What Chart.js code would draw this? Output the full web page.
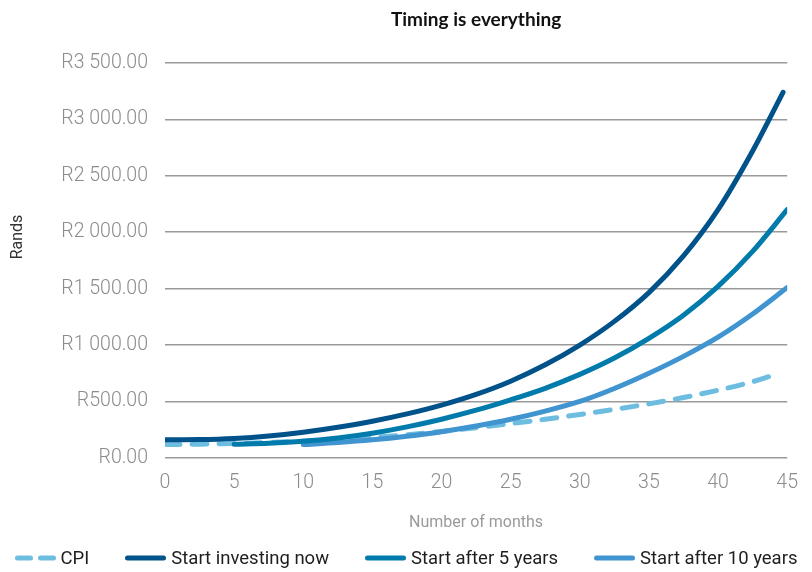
<!DOCTYPE html>
<html>
<head>
<meta charset="utf-8">
<title>Timing is everything</title>
<script src="https://cdn.jsdelivr.net/npm/chart.js@4.4.1/dist/chart.umd.min.js"></script>
<style>
    html, body { margin: 0; padding: 0; background: #fff; }
    .wrap { position: relative; width: 812px; height: 572px; }
    #chart { display: block; }
    .legend {
        position: absolute; left: 0; top: 548px; width: 812px; height: 20px;
        display: flex; justify-content: center; gap: 36px;
        font: 18.5px Roboto, sans-serif; line-height: 20px; color: #1e1e1e;
    }
    .legend__item { display: flex; align-items: center; white-space: nowrap; }
    .legend__swatch { margin-right: 5px; }
</style>
</head>
<body>
<div class="wrap">
    <canvas id="chart" width="812" height="572"></canvas>
    <div class="legend" id="legend"></div>
</div>
<script>
const chartTitle = 'Timing is everything';
const yAxisName = 'Rands';
const xAxisName = 'Number of months';

const monthTicks = [0, 5, 10, 15, 20, 25, 30, 35, 40, 45];
const randTicks = [0, 500, 1000, 1500, 2000, 2500, 3000, 3500];

const seriesNames = ['CPI', 'Start investing now', 'Start after 5 years', 'Start after 10 years'];

const cpiMonths = [0, 2.5, 5, 7.5, 10, 12.5, 15, 17.5, 20, 22.5, 25, 27.5, 30, 32.5, 35, 37.5, 40, 42.5, 44.4];
const cpiValues = [118, 122, 128, 137, 149, 164, 182, 205, 235, 268, 304, 343, 385, 430, 479, 535, 600, 675, 750];

const nowMonths = [0, 2.5, 5, 7.5, 10, 12.5, 15, 17.5, 20, 22.5, 25, 27.5, 30, 32.5, 35, 37.5, 40, 42.5, 44.7];
const nowValues = [160, 162, 172, 194, 228, 272, 325, 390, 468, 563, 680, 825, 1000, 1210, 1465, 1790, 2200, 2720, 3240];

const fiveMonths = [5, 7.5, 10, 12.5, 15, 17.5, 20, 22.5, 25, 27.5, 30, 32.5, 35, 37.5, 40, 42.5, 45];
const fiveValues = [120, 130, 148, 177, 219, 275, 343, 423, 515, 617, 740, 885, 1060, 1265, 1520, 1830, 2200];

const tenMonths = [10, 12.5, 15, 17.5, 20, 22.5, 25, 27.5, 30, 32.5, 35, 37.5, 40, 42.5, 45];
const tenValues = [118, 136, 160, 192, 232, 282, 342, 415, 500, 615, 750, 900, 1070, 1275, 1510];

const colors = ['#6dbde1', '#00528a', '#007bab', '#4094d0'];

function points(months, values) {
    return months.map((m, i) => ({ x: m, y: values[i] }));
}

function rands(value) {
    const thousands = Math.floor(value / 1000);
    const rest = value % 1000;
    const body = thousands ? thousands + ' ' + String(rest).padStart(3, '0') : String(rest);
    return 'R' + body + '.00';
}

function line(index, data, order, dash) {
    return {
        label: seriesNames[index],
        data: data,
        borderColor: colors[index],
        backgroundColor: colors[index],
        borderWidth: 5,
        borderDash: dash || [],
        borderCapStyle: 'round',
        borderJoinStyle: 'round',
        pointRadius: 0,
        pointHoverRadius: 0,
        cubicInterpolationMode: 'monotone',
        fill: false,
        order: order,
    };
}

// title above the plot and the rotated y axis name
const chartText = {
    id: 'chartText',
    afterDraw(chart) {
        const { ctx, chartArea } = chart;
        ctx.save();
        ctx.textAlign = 'center';
        ctx.textBaseline = 'middle';
        ctx.fillStyle = '#111';
        ctx.font = 'bold 19px Lato';
        ctx.fillText(chartTitle, (chartArea.left + chartArea.right) / 2, 20);
        ctx.translate(18, 237);
        ctx.rotate(-Math.PI / 2);
        ctx.fillStyle = '#333';
        ctx.font = '16px Roboto';
        ctx.fillText(yAxisName, 0, 0);
        ctx.restore();
    }
};

// legend built as html under the canvas
const htmlLegend = {
    id: 'htmlLegend',
    afterUpdate(chart) {
        const box = document.getElementById('legend');
        box.innerHTML = '';
        const items = chart.options.plugins.legend.labels.generateLabels(chart);
        items.sort((a, b) => a.datasetIndex - b.datasetIndex);
        const ns = 'http://www.w3.org/2000/svg';

        items.forEach(item => {
            const el = document.createElement('div');
            el.className = 'legend__item';

            const svg = document.createElementNS(ns, 'svg');
            svg.setAttribute('class', 'legend__swatch');
            svg.setAttribute('width', '41');
            svg.setAttribute('height', '8');
            const stroke = document.createElementNS(ns, 'line');
            stroke.setAttribute('x1', '2.5');
            stroke.setAttribute('y1', '4');
            stroke.setAttribute('x2', '38.5');
            stroke.setAttribute('y2', '4');
            stroke.setAttribute('stroke', item.strokeStyle);
            stroke.setAttribute('stroke-width', '5');
            stroke.setAttribute('stroke-linecap', 'round');
            if (item.lineDash && item.lineDash.length) {
                stroke.setAttribute('stroke-dasharray', '13 10');
            }
            svg.appendChild(stroke);

            const text = document.createElement('span');
            text.textContent = item.text;

            el.appendChild(svg);
            el.appendChild(text);
            box.appendChild(el);
        });
    }
};

Chart.defaults.font.family = 'Roboto';

const chart = new Chart(document.getElementById('chart'), {
    type: 'line',
    data: {
        datasets: [
            line(0, points(cpiMonths, cpiValues), 4, [15, 12]),
            line(1, points(nowMonths, nowValues), 1),
            line(2, points(fiveMonths, fiveValues), 2),
            line(3, points(tenMonths, tenValues), 3),
        ]
    },
    options: {
        responsive: false,
        devicePixelRatio: 1,
        animation: false,
        layout: {
            padding: { top: 63, right: 24, bottom: 39, left: 0 }
        },
        scales: {
            x: {
                type: 'linear',
                min: 0,
                max: 45,
                afterBuildTicks: scale => {
                    scale.ticks = monthTicks.map(v => ({ value: v }));
                },
                grid: { display: false, drawTicks: false },
                border: { display: false },
                ticks: {
                    padding: 14,
                    color: '#8c8c8c',
                    font: { size: 19.5, weight: '300' },
                },
                title: {
                    display: true,
                    text: xAxisName,
                    color: '#9a9a9a',
                    font: { size: 16 },
                    padding: { top: 4.5, bottom: 0 },
                }
            },
            y: {
                min: 0,
                max: 3500,
                afterBuildTicks: scale => {
                    scale.ticks = randTicks.map(v => ({ value: v }));
                },
                afterFit: scale => {
                    scale.width = 165;
                },
                grid: { color: '#9a9a9a', lineWidth: 1.5, drawTicks: false },
                border: { display: false },
                ticks: {
                    padding: 17,
                    color: '#8c8c8c',
                    font: { size: 19.5, weight: '300' },
                    callback: value => rands(value),
                }
            }
        },
        plugins: {
            legend: { display: false },
            tooltip: { enabled: false },
        }
    },
    plugins: [chartText, htmlLegend],
});
</script>
</body>
</html>
